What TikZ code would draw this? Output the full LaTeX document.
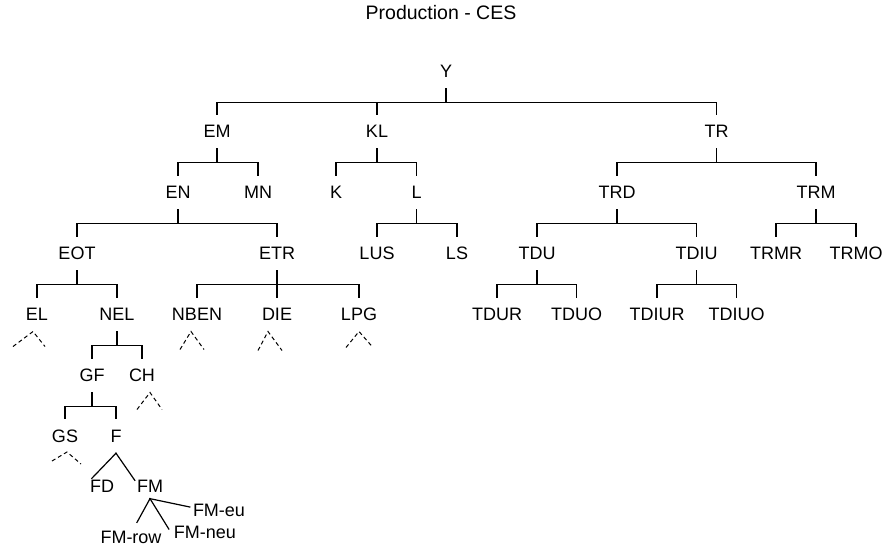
\documentclass[tikz,border=0pt]{standalone}
\usepackage{fontspec}
\setmainfont{Liberation Sans}
\usetikzlibrary{calc}
\begin{document}
\begin{tikzpicture}[x=1pt,y=-1pt,
  txt/.style={font=\fontsize{18}{21}\selectfont},
  lab/.style={txt, inner sep=0pt, minimum height=34pt, text height=12.9pt, text depth=0pt},
  leaf/.style={txt, inner sep=1pt, text height=12.9pt, text depth=0pt},
  tedge/.style={line width=1.2pt, line cap=rect},
  dsh/.style={line width=1pt, dash pattern=on 4pt off 3pt}]
\useasboundingbox (0,0) rectangle (882,548);
\node[font=\fontsize{19.5}{23}\selectfont, inner sep=0pt, text height=14pt, text depth=0pt] (title) at (441,12.5) {Production - CES};
% level 0
\node[lab] (Y) at (446,71) {Y};
% level 1
\node[lab] (EM) at (217,131.5) {EM};
\node[lab] (KL) at (377,131.5) {KL};
\node[lab] (TR) at (716.5,131.5) {TR};
% level 2
\node[lab] (EN) at (178,192.5) {EN};
\node[lab] (MN) at (258,192.5) {MN};
\node[lab] (K) at (336,192.5) {K};
\node[lab] (L) at (416.5,192.5) {L};
\node[lab] (TRD) at (617,192.5) {TRD};
\node[lab] (TRM) at (816,192.5) {TRM};
% level 3
\node[lab] (EOT) at (77,253.5) {EOT};
\node[lab] (ETR) at (277,253.5) {ETR};
\node[lab] (LUS) at (377,253.5) {LUS};
\node[lab] (LS) at (457,253.5) {LS};
\node[lab] (TDU) at (537,253.5) {TDU};
\node[lab] (TDIU) at (696.5,253.5) {TDIU};
\node[lab] (TRMR) at (776,253.5) {TRMR};
\node[lab] (TRMO) at (856,253.5) {TRMO};
% level 4
\node[lab] (EL) at (37,314.5) {EL};
\node[lab] (NEL) at (117,314.5) {NEL};
\node[lab] (NBEN) at (197,314.5) {NBEN};
\node[lab] (DIE) at (277,314.5) {DIE};
\node[lab] (LPG) at (359,314.5) {LPG};
\node[lab] (TDUR) at (497,314.5) {TDUR};
\node[lab] (TDUO) at (576.5,314.5) {TDUO};
\node[lab] (TDIUR) at (657,314.5) {TDIUR};
\node[lab] (TDIUO) at (736.5,314.5) {TDIUO};
% level 5
\node[lab] (GF) at (92,375.5) {GF};
\node[lab] (CH) at (142,375.5) {CH};
% level 6
\node[lab] (GS) at (65,436) {GS};
\node[lab] (F) at (116,436) {F};
% level 7
\node[leaf] (FD) at (102,486) {FD};
\node[leaf] (FM) at (150,486) {FM};
\node[leaf] (FMrow) at (131,537) {FM-row};
\node[leaf] (FMneu) at (205,532) {FM-neu};
\node[leaf] (FMeu) at (219,510) {FM-eu};
% orthogonal tree edges
\foreach \p/\c in {Y/EM,Y/KL,Y/TR,EM/EN,EM/MN,KL/K,KL/L,TR/TRD,TR/TRM,
  EN/EOT,EN/ETR,L/LUS,L/LS,TRD/TDU,TRD/TDIU,TRM/TRMR,TRM/TRMO,
  EOT/EL,EOT/NEL,ETR/NBEN,ETR/DIE,ETR/LPG,TDU/TDUR,TDU/TDUO,TDIU/TDIUR,TDIU/TDIUO,
  NEL/GF,NEL/CH,GF/GS,GF/F}
  \draw[tedge] (\p.south) -- ++(0,14) -| (\c.north);
% diagonal edges
\draw[tedge] (F.south) -- ([xshift=3pt]FD.north west);
\draw[tedge] (F.south) -- ([xshift=-1pt,yshift=-2pt]FM.north west);
\draw[tedge] ([yshift=-5pt]FM.south) -- ([xshift=6pt,yshift=7pt]FMrow.north);
\draw[tedge] ([yshift=-5pt]FM.south) -- ([xshift=-4pt,yshift=3pt]FMneu.west);
\draw[tedge] ([yshift=-5pt]FM.south) -- ([xshift=-2pt,yshift=3pt]FMeu.west);
% collapsed subtrees
\draw[dsh] ($(EL)+(-24,32)$) -- ($(EL)+(-4,17)$) -- ($(EL)+(8,32)$);
\draw[dsh] ($(NBEN)+(-17,35)$) -- ($(NBEN)+(-6,17)$) -- ($(NBEN)+(7,35)$);
\draw[dsh] ($(DIE)+(-19,36)$) -- ($(DIE)+(-9,17)$) -- ($(DIE)+(5,36)$);
\draw[dsh] ($(LPG)+(-13,33)$) -- ($(LPG)+(0,17)$) -- ($(LPG)+(14,33)$);
\draw[dsh] ($(CH)+(-5,34)$) -- ($(CH)+(8,17)$) -- ($(CH)+(20,34)$);
\draw[dsh] ($(GS)+(-13,25)$) -- ($(GS)+(2,16)$) -- ($(GS)+(16,28)$);
\end{tikzpicture}
\end{document}
